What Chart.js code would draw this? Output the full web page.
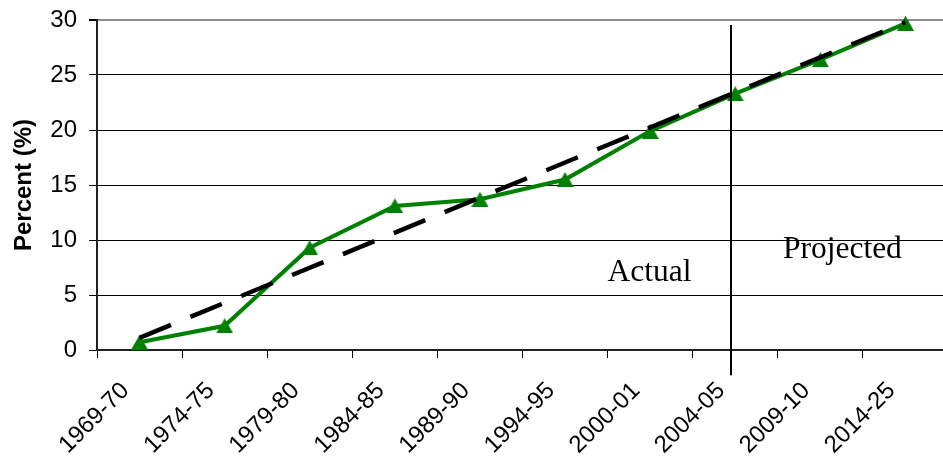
<!DOCTYPE html>
<html>
<head>
<meta charset="utf-8">
<script src="https://cdn.jsdelivr.net/npm/chart.js@4/dist/chart.umd.min.js"></script>
<style>
  html, body { margin: 0; padding: 0; background: #fff; overflow: hidden; }
  #wrap { width: 943px; height: 458px; overflow: hidden; position: relative; }
  canvas { display: block; }
</style>
</head>
<body>
<div id="wrap"><canvas id="chart" width="960" height="458"></canvas></div>
<script>
// School-year periods on the category axis
const categories = ['1969-70', '1974-75', '1979-80', '1984-85', '1989-90',
                    '1994-95', '2000-01', '2004-05', '2009-10', '2014-25'];

// Share in percent for each period (last two are projections)
const percent = [0.7, 2.2, 9.3, 13.1, 13.7, 15.5, 19.9, 23.3, 26.4, 29.7];

// Straight trend from the first to the last period
const trend = [1.1, null, null, null, null, null, null, null, null, 29.8];

// Value-axis ticks
const yTicks = [0, 5, 10, 15, 20, 25, 30];

const SANS = '"Liberation Sans", Arial, Helvetica, sans-serif';
const SERIF = '"Liberation Serif", "Times New Roman", Times, serif';

// Filled triangle marker, centred on its bounding box
function triangleMarker(w, h, color) {
  const c = document.createElement('canvas');
  c.width = w; c.height = h;
  const g = c.getContext('2d');
  g.fillStyle = color;
  g.beginPath();
  g.moveTo(w / 2, 0);
  g.lineTo(w, h);
  g.lineTo(0, h);
  g.closePath();
  g.fill();
  return c;
}

// Divider line, period notes and rotated category labels
const overlay = {
  id: 'overlay',
  afterDatasetsDraw(chart, args, opts) {
    const { ctx, scales: { x, y } } = chart;
    ctx.save();
    const dx = Math.round(x.getPixelForValue(opts.divider.at));
    ctx.strokeStyle = '#000';
    ctx.lineWidth = 2;
    ctx.beginPath();
    ctx.moveTo(dx, y.getPixelForValue(opts.divider.from));
    ctx.lineTo(dx, y.getPixelForValue(opts.divider.to));
    ctx.stroke();

    ctx.font = '31.5px ' + SERIF;
    ctx.fillStyle = '#000';
    ctx.textAlign = 'left';
    ctx.textBaseline = 'alphabetic';
    opts.notes.forEach(n => {
      ctx.fillText(n.text, x.getPixelForValue(n.x), y.getPixelForValue(n.y));
    });
    ctx.restore();
  },
  afterDraw(chart, args, opts) {
    const { ctx, scales: { x } } = chart;
    ctx.save();
    ctx.font = '24px ' + SANS;
    ctx.fillStyle = '#000';
    ctx.textAlign = 'right';
    ctx.textBaseline = 'middle';
    x.ticks.forEach((t, i) => {
      ctx.save();
      ctx.translate(x.getPixelForTick(i) + opts.labelShift, x.top + opts.labelDrop);
      ctx.rotate(-Math.PI / 4);
      ctx.fillText(x.getLabelForValue(t.value), 0, 0);
      ctx.restore();
    });
    ctx.restore();
  }
};

new Chart(document.getElementById('chart'), {
  type: 'line',
  data: {
    labels: categories,
    datasets: [
      {
        label: 'Trend',
        data: trend,
        borderColor: '#000',
        borderWidth: 4.5,
        borderDash: [34, 21],
        borderCapStyle: 'butt',
        pointRadius: 0,
        spanGaps: true,
        fill: false,
        tension: 0,
        clip: false
      },
      {
        label: 'Percent',
        data: percent,
        borderColor: '#008000',
        backgroundColor: '#008000',
        borderWidth: 4,
        pointStyle: triangleMarker(17, 15, '#008000'),
        pointRadius: 8,
        pointHoverRadius: 8,
        fill: false,
        tension: 0,
        clip: false
      }
    ]
  },
  options: {
    responsive: false,
    animation: false,
    events: [],
    layout: { padding: { left: 0, top: 20, right: 8.5, bottom: 0 } },
    plugins: {
      legend: { display: false },
      tooltip: { enabled: false },
      overlay: {
        divider: { at: 6.955, from: -2.3, to: 29.55 },
        notes: [
          { text: 'Actual', x: 5.5, y: 6.3 },
          { text: 'Projected', x: 7.56, y: 8.36 }
        ],
        labelShift: -14,
        labelDrop: 37
      }
    },
    scales: {
      x: {
        offset: true,
        grid: {
          offset: true,
          drawOnChartArea: false,
          drawTicks: true,
          tickLength: 8,
          color: '#000',
          lineWidth: 1
        },
        border: { color: '#222', width: 2 },
        ticks: { display: false },
        afterFit(scale) { scale.height = 108; }
      },
      y: {
        min: 0,
        max: 30,
        afterBuildTicks(scale) { scale.ticks = yTicks.map(v => ({ value: v })); },
        grid: {
          color: c => (c.tick && c.tick.value === 30 ? '#8c8c8c' : '#000'),
          lineWidth: c => (c.tick && c.tick.value === 30 ? 2 : 1),
          tickColor: '#000',
          tickLength: 8
        },
        border: { color: '#222', width: 2 },
        ticks: {
          font: { family: SANS, size: 24 },
          color: '#000',
          padding: 12
        },
        title: {
          display: true,
          text: 'Percent (%)',
          color: '#000',
          font: { family: SANS, size: 24, weight: 'bold' },
          padding: { top: 10, bottom: 0 }
        },
        afterFit(scale) {
          scale.width = 97;
          scale.paddingTop = 0;
          scale.paddingBottom = 0;
        }
      }
    }
  },
  plugins: [overlay]
});
</script>
</body>
</html>
